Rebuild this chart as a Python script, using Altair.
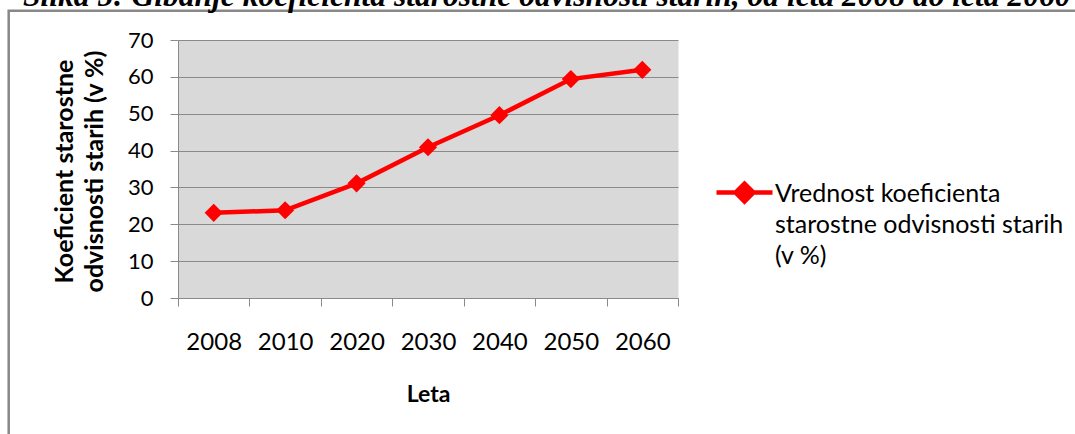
import json

import altair as alt
import pandas as pd

# Old-age dependency ratio, Slovenia (EUROPOP2008 projection)
years = ["2008", "2010", "2020", "2030", "2040", "2050", "2060"]
ratio = [23.1, 23.8, 31.1, 40.9, 49.6, 59.4, 61.9]
y_ticks = [0, 10, 20, 30, 40, 50, 60, 70]

series_name = "Vrednost koeficienta starostne odvisnosti starih (v %)"
legend_lines = ["Vrednost koeficienta", "starostne odvisnosti starih", "(v %)"]
y_title = ["Koeficient starostne", "odvisnosti starih (v %)"]
x_title = "Leta"
caption = ("Slika 5: Gibanje koeficienta starostne odvisnosti starih, "
           "od leta 2008 do leta 2060")

df = pd.DataFrame({
    "idx": list(range(len(years))),
    "leto": years,
    "vrednost": ratio,
    "serija": series_name,
})
one_row = pd.DataFrame({"k": [0]})

W, H = 500, 258
PAD = {"left": 178, "top": 40, "right": 1075 - 178 - W, "bottom": 434 - 40 - H}
GRID = "#8a8a8a"
RED = "#ff0000"
band = W / len(years)

# category boundaries carry the ticks; labels are shifted to the band centres
boundaries = [i - 0.5 for i in range(len(years) + 1)]

x_enc = alt.X(
    "idx:Q",
    scale=alt.Scale(domain=[-0.5, len(years) - 0.5], nice=False, zero=False),
    axis=alt.Axis(
        values=boundaries,
        labelExpr=f"{json.dumps(years)}[datum.value + 0.5] || ''",
        labelOffset=band / 2,
        labelFlush=False,
        labelOverlap=False,
        labelBound=False,
        labelFont="Lato",
        labelFontSize=24,
        labelColor="#000000",
        labelBaseline="alphabetic",
        labelPadding=43,
        tickSize=8,
        tickColor=GRID,
        domainColor=GRID,
        grid=False,
        title=x_title,
        titleFont="Lato",
        titleFontSize=23,
        titleFontWeight="bold",
        titleColor="#000000",
        titleBaseline="alphabetic",
        titleX=W / 2,
        titleY=103,
    ),
)

y_enc = alt.Y(
    "vrednost:Q",
    scale=alt.Scale(domain=[0, 70], nice=False),
    axis=alt.Axis(
        values=y_ticks,
        labelFont="Lato",
        labelFontSize=22,
        labelColor="#000000",
        labelPadding=17,
        tickSize=8,
        tickColor=GRID,
        domainColor=GRID,
        grid=True,
        gridColor=GRID,
        title=y_title,
        titleFont="Lato",
        titleFontSize=25,
        titleFontWeight="bold",
        titleColor="#000000",
        titleAngle=270,
        titleAlign="center",
        titleBaseline="alphabetic",
        titleLineHeight=30,
        titleX=-106,
        titleY=H / 2 + 2,
    ),
)

# frame around the whole figure
frame = alt.Chart(one_row).mark_rect(
    fillOpacity=0, stroke="#888888", strokeWidth=2.5
).encode(
    x=alt.value(-169.3), x2=alt.value(930),
    y=alt.value(-29.2), y2=alt.value(430),
)

heading = alt.Chart(one_row).mark_text(
    font="Liberation Serif", fontSize=31.5, fontStyle="italic", fontWeight="bold",
    align="left", baseline="alphabetic", color="#000000",
).encode(x=alt.value(-155), y=alt.value(-34), text=alt.value(caption))

line = alt.Chart(df).mark_line(color=RED, strokeWidth=4.5).encode(x=x_enc, y=y_enc)

# legend symbol: a short line with a diamond, raised to sit on the first label line
legend_symbol = "M-1,-0.32L1,-0.32M-0.32,-0.32L0,-0.64L0.32,-0.32L0,0Z"

points = alt.Chart(df).mark_point(
    shape="diamond", filled=True, size=330, opacity=1
).encode(
    x=x_enc,
    y=y_enc,
    color=alt.Color(
        "serija:N",
        scale=alt.Scale(range=[RED]),
        legend=alt.Legend(
            orient="none",
            legendX=536,
            legendY=131,
            title=None,
            padding=0,
            symbolType=legend_symbol,
            symbolSize=3136,
            symbolStrokeWidth=4.5,
            symbolFillColor=RED,
            symbolStrokeColor=RED,
            labelExpr=json.dumps(legend_lines),
            labelFont="Lato",
            labelFontSize=25,
            labelColor="#000000",
            labelBaseline="alphabetic",
            labelLimit=600,
            labelOffset=0,
        ),
    ),
)

chart = alt.layer(frame, heading, line, points).properties(
    width=W,
    height=H,
    padding=PAD,
    autosize=alt.AutoSizeParams(type="none"),
    background="#ffffff",
).configure(
    font="Lato",
    style={"guide-label": {"lineHeight": 31}},
).configure_view(fill="#d9d9d9", stroke="transparent")

chart.save("out.html", embed_options={"renderer": "svg", "actions": False})
